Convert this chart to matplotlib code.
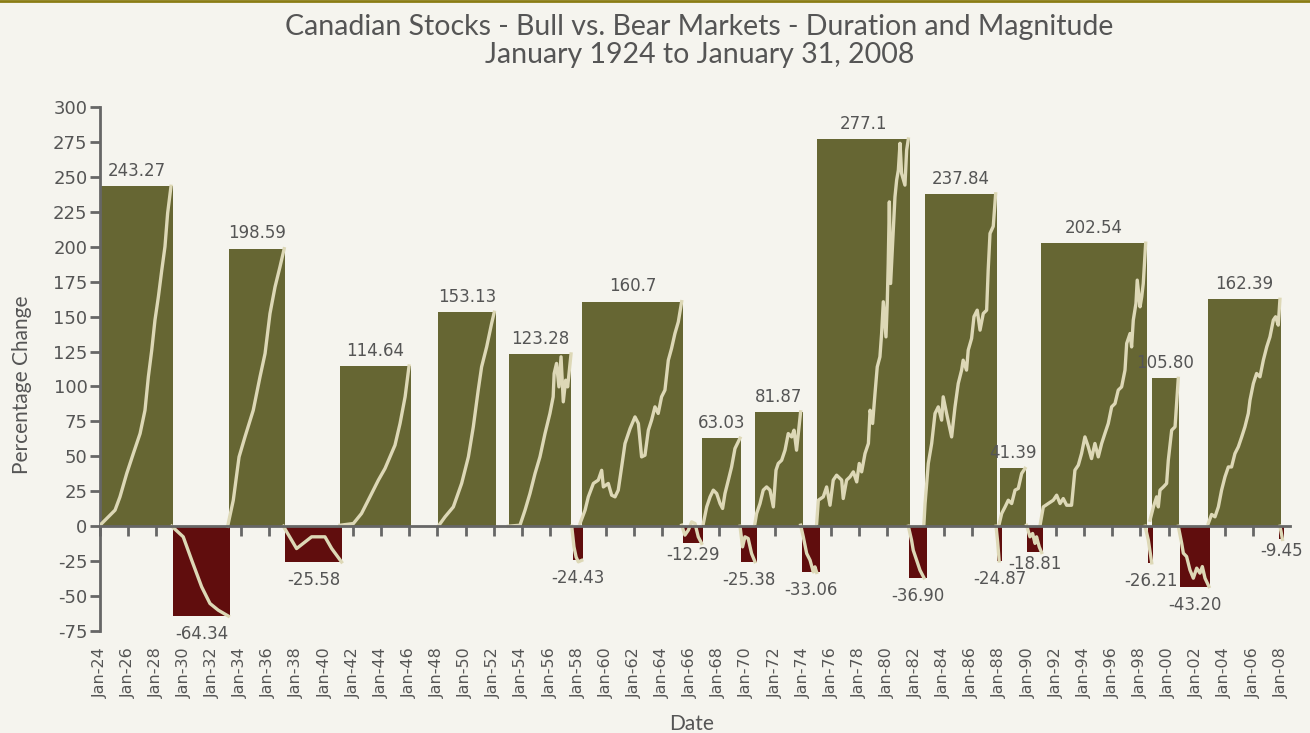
import numpy as np
import matplotlib.pyplot as plt
from matplotlib.lines import Line2D

# market phases: start / end (decimal year), % change, label text
starts = [1924.0, 1929.19, 1933.2, 1937.16, 1941.07, 1948.04, 1953.09, 1957.64,
          1958.28, 1965.47, 1966.82, 1969.59, 1970.58, 1973.93, 1974.99, 1981.54,
          1982.68, 1987.8, 1988.01, 1989.93, 1990.93, 1998.54, 1998.82, 2000.81,
          2002.81, 2007.85]
ends = [1929.19, 1933.25, 1937.16, 1941.21, 1946.12, 1952.17, 1957.5, 1958.35,
        1965.47, 1966.89, 1969.59, 1970.73, 1974.0, 1975.21, 1981.61, 1982.82,
        1987.8, 1988.15, 1989.86, 1991.07, 1998.47, 1998.89, 2000.74, 2002.95,
        2008.0, 2008.21]
changes = [243.27, -64.34, 198.59, -25.58, 114.64, 153.13, 123.28, -24.43,
           160.7, -12.29, 63.03, -25.38, 81.87, -33.06, 277.1, -36.90,
           237.84, -24.87, 41.39, -18.81, 202.54, -26.21, 105.80, -43.20,
           162.39, -9.45]
labels = ["243.27", "-64.34", "198.59", "-25.58", "114.64", "153.13", "123.28", "-24.43",
          "160.7", "-12.29", "63.03", "-25.38", "81.87", "-33.06", "277.1", "-36.90",
          "237.84", "-24.87", "41.39", "-18.81", "202.54", "-26.21", "105.80", "-43.20",
          "162.39", "-9.45"]

# cumulative index path inside each phase
path_years = [
    [1924.0, 1925.07, 1925.42, 1925.9, 1926.37, 1926.85, 1927.2, 1927.44, 1927.68, 1927.91,
     1928.15, 1928.39, 1928.62, 1928.81, 1929.05],
    [1929.1, 1929.92, 1930.52, 1931.23, 1931.82, 1932.41, 1933.13],
    [1933.08, 1933.48, 1933.89, 1934.31, 1934.9, 1935.38, 1935.74, 1936.09, 1936.45, 1936.8, 1937.1],
    [1937.04, 1937.98, 1939.05, 1940.0, 1940.48, 1941.18],
    [1941.07, 1942.02, 1942.6, 1943.2, 1943.8, 1944.27, 1944.98, 1945.34, 1945.7, 1945.98],
    [1948.11, 1948.54, 1949.13, 1949.72, 1950.2, 1950.55, 1950.9, 1951.14, 1951.5, 1951.85, 1952.04],
    [1953.04, 1953.87, 1954.23, 1954.58, 1954.94, 1955.29, 1955.65, 1956.0, 1956.23, 1956.3,
     1956.47, 1956.64, 1956.79, 1956.95, 1957.12, 1957.26, 1957.5],
    [1957.55, 1957.71, 1957.86, 1958.02, 1958.26],
    [1958.14, 1958.5, 1958.73, 1959.09, 1959.44, 1959.68, 1959.8, 1960.15, 1960.39, 1960.63,
     1960.86, 1961.1, 1961.34, 1961.7, 1962.05, 1962.29, 1962.52, 1962.76, 1963.0, 1963.23,
     1963.47, 1963.7, 1963.94, 1964.18, 1964.42, 1964.65, 1964.89, 1965.13, 1965.37],
    [1965.37, 1965.6, 1965.84, 1966.08, 1966.32, 1966.55, 1966.79],
    [1966.91, 1967.15, 1967.39, 1967.62, 1967.86, 1968.1, 1968.28, 1968.45, 1968.69, 1968.92,
     1969.16, 1969.52],
    [1969.52, 1969.7, 1969.87, 1970.1, 1970.34, 1970.58],
    [1970.58, 1970.7, 1970.94, 1971.17, 1971.41, 1971.65, 1971.89, 1972.08, 1972.24, 1972.48,
     1972.72, 1972.95, 1973.19, 1973.36, 1973.54, 1973.83],
    [1973.83, 1974.02, 1974.26, 1974.5, 1974.73, 1974.85, 1974.97],
    [1974.97, 1975.09, 1975.44, 1975.68, 1975.92, 1976.15, 1976.39, 1976.75, 1976.86, 1977.1,
     1977.34, 1977.58, 1977.82, 1978.0, 1978.17, 1978.41, 1978.65, 1978.77, 1978.95, 1979.12,
     1979.28, 1979.47, 1979.59, 1979.71, 1979.9, 1979.99, 1980.06, 1980.14, 1980.23, 1980.42,
     1980.54, 1980.66, 1980.78, 1980.9, 1981.01, 1981.25, 1981.37, 1981.49],
    [1981.49, 1981.72, 1981.84, 1982.08, 1982.32, 1982.6],
    [1982.6, 1982.68, 1982.91, 1983.15, 1983.39, 1983.62, 1983.86, 1983.97, 1984.21, 1984.57,
     1984.81, 1985.04, 1985.28, 1985.39, 1985.63, 1985.75, 1985.99, 1986.16, 1986.39, 1986.59,
     1986.82, 1987.06, 1987.17, 1987.3, 1987.53, 1987.7],
    [1987.73, 1987.85, 1987.95],
    [1987.96, 1988.13, 1988.37, 1988.6, 1988.84, 1989.08, 1989.31, 1989.55, 1989.79],
    [1989.9, 1990.14, 1990.33, 1990.5, 1990.61, 1990.8, 1990.97],
    [1990.86, 1991.09, 1991.44, 1991.8, 1992.04, 1992.28, 1992.51, 1992.75, 1993.1, 1993.34,
     1993.58, 1993.81, 1994.05, 1994.29, 1994.52, 1994.76, 1995.0, 1995.24, 1995.47, 1995.71,
     1995.95, 1996.19, 1996.42, 1996.66, 1996.9, 1997.02, 1997.26, 1997.37, 1997.49, 1997.68,
     1997.77, 1997.97, 1998.09, 1998.2, 1998.37],
    [1998.33, 1998.56, 1998.8],
    [1998.68, 1998.92, 1999.15, 1999.27, 1999.39, 1999.63, 1999.86, 1999.98, 2000.22, 2000.46,
     2000.69],
    [2000.69, 2000.93, 2001.05, 2001.28, 2001.52, 2001.76, 2002.0, 2002.23, 2002.4, 2002.59,
     2002.87],
    [2002.82, 2003.06, 2003.3, 2003.54, 2003.77, 2004.01, 2004.25, 2004.48, 2004.72, 2004.96,
     2005.2, 2005.43, 2005.67, 2005.79, 2006.03, 2006.26, 2006.5, 2006.74, 2006.98, 2007.21,
     2007.45, 2007.61, 2007.8, 2007.92],
    [2007.92, 2008.0, 2008.1],
]
path_pct = [
    [0.7, 11.5, 21, 37.7, 52, 66.3, 83, 107, 126, 147.5, 164, 183, 200, 224, 243.27],
    [0, -7.6, -24.3, -43.4, -55.3, -60.1, -64.34],
    [0, 18.6, 49.6, 63.9, 83, 106.9, 123.6, 152.2, 171.3, 185.6, 198.59],
    [0, -16, -7.6, -7.6, -16, -25.58],
    [0.7, 1.9, 9.1, 21, 33, 41.3, 58, 73.5, 92.6, 114.64],
    [0.7, 6.7, 13.8, 30.6, 49.6, 71.1, 97.4, 114, 128.3, 145, 153.13],
    [0, 0.7, 11.5, 23.4, 37.7, 49.6, 66.3, 80.7, 92.6, 109.3, 116.5, 99.7, 121.2, 89, 104.5,
     99.7, 123.28],
    [0, -14.8, -22, -25.5, -24.43],
    [1.9, 11.5, 21, 30.6, 33, 40, 28.1, 30.6, 22.2, 21, 25.8, 42.4, 59.2, 69.9, 78.2, 73.5,
     49.6, 50.8, 68.7, 75.9, 85.4, 80.7, 92.6, 97.4, 118.8, 127.2, 137.9, 146.2, 160.7],
    [0.7, -6.4, -2.9, 3.1, 1.9, -7.6, -12.29],
    [1.9, 13.8, 21, 25.8, 23.4, 16.2, 12.7, 23.4, 33, 42.4, 55.6, 63.03],
    [0, -14.8, -7.6, -8.8, -19.5, -25.38],
    [1.9, 9.1, 16.2, 25.8, 28.1, 25.8, 13.8, 40.1, 44.9, 47.2, 54.4, 66.3, 63.9, 68.7, 54.4,
     81.87],
    [0.7, -7.6, -19.5, -24.3, -32.7, -29.1, -33.06],
    [1.9, 18.6, 21, 28.1, 15, 33, 36.5, 33, 19.8, 33, 35.3, 38.9, 31.7, 44.9, 38.9, 52, 59.2,
     83, 73.5, 95, 114, 121.2, 137.9, 160.6, 135.5, 159.4, 188, 232.1, 173.7, 211.9, 235.7,
     247.7, 254.8, 274, 252.5, 244.1, 269.1, 277.1],
    [0, -10, -17.2, -24.3, -31.5, -36.9],
    [1.9, 16.2, 44.9, 59.2, 80.7, 85.4, 75.9, 92.6, 80.7, 63.9, 85.4, 102.1, 111.7, 118.8,
     111.7, 126, 134.4, 150, 154.6, 140.3, 152.2, 154.6, 183.3, 209.5, 214.6, 237.84],
    [0, -12, -24.87],
    [1.9, 9.1, 13.8, 18.6, 16.2, 25.8, 27, 37.7, 41.39],
    [0.7, -7.6, -5.2, -12.3, -7.6, -14.8, -18.81],
    [0.7, 13.8, 16.2, 18.6, 22.2, 16.2, 19.8, 15, 15, 40.1, 43.7, 52, 63.9, 56.8, 48.4, 59.2,
     49.6, 59.2, 66.3, 73.5, 85.4, 87.8, 97.4, 99.7, 111.7, 130.8, 137.9, 128.3, 147.5, 159.4,
     176.1, 157, 164.2, 173.7, 202.54],
    [0, -10, -26.21],
    [4.3, 13.8, 21, 13.8, 25.8, 28.1, 30.6, 47.2, 68.7, 71.1, 105.8],
    [0, -12.1, -19.3, -21.7, -31.3, -37.2, -30, -33.6, -28.9, -37.2, -43.2],
    [1.9, 8.4, 6.7, 13.8, 25.8, 35.3, 42.4, 42.4, 52, 56.8, 63.9, 71.1, 80.7, 90.2, 102.1,
     109.3, 106.9, 118.8, 128.3, 135.5, 147.5, 149.9, 143.9, 162.39],
    [0, -4, -9.45],
]

tick_years = list(range(1924, 2009, 2))
tick_labels = ["Jan-%02d" % (y % 100) for y in tick_years]
y_ticks = list(range(-75, 301, 25))

bg = '#f5f4ee'
bull_col = '#666633'
bear_col = '#600d0d'
line_col = '#ddd8b6'
text_col = '#555555'
axis_col = '#666666'
num_font = 'DejaVu Sans'

fig = plt.figure(figsize=(13.1, 7.33), dpi=100, facecolor=bg)
ax = fig.add_axes([100/1310, 102/733, 1189.5/1310, 524/733], facecolor=bg)

widths = [e - s for s, e in zip(starts, ends)]
cols = [bull_col if c > 0 else bear_col for c in changes]
ax.bar(starts, changes, width=widths, align='edge', color=cols, zorder=2)

for xs, ys in zip(path_years, path_pct):
    ax.plot(xs, ys, color=line_col, lw=2.4, zorder=3, solid_joinstyle='round')

for s, e, c, lab in zip(starts, ends, changes, labels):
    mid = (s + e) / 2
    if c > 0:
        dy = 11
    elif c > -20:
        dy = -8.5   # small drops sit closer to the bar
    else:
        dy = -13
    ax.annotate(lab, (mid, c), xytext=(0, dy), textcoords='offset points',
                ha='center', va='center', fontsize=12, color=text_col,
                family=num_font, zorder=4)

ax.set_xlim(1924, 2008.6)
ax.set_ylim(-75, 300)

for sp in ['top', 'right']:
    ax.spines[sp].set_visible(False)
ax.spines['bottom'].set_position(('data', 0))
ax.spines['bottom'].set_color(axis_col)
ax.spines['bottom'].set_linewidth(2)
ax.spines['bottom'].set_zorder(5)
ax.spines['left'].set_color(axis_col)
ax.spines['left'].set_linewidth(2)

ax.set_yticks(y_ticks)
ax.set_yticklabels([str(v) for v in y_ticks])
ax.set_xticks(tick_years)
ax.set_xticklabels(tick_labels, rotation=90, va='top')
ax.tick_params(axis='y', direction='out', length=7, width=2, color=axis_col,
               labelsize=13, labelcolor=text_col, pad=2)
ax.tick_params(axis='x', direction='out', length=7, width=2, color=axis_col,
               labelsize=11.5, labelcolor=text_col, pad=80)
for t in ax.get_xticklabels() + ax.get_yticklabels():
    t.set_family(num_font)

fig.text(0.534, 1 - 27/733, "Canadian Stocks - Bull vs. Bear Markets - Duration and Magnitude",
         ha='center', va='center', fontsize=20.5, color=text_col, family='Lato')
fig.text(0.534, 1 - 55/733, "January 1924 to January 31, 2008",
         ha='center', va='center', fontsize=20.5, color=text_col, family='Lato')
fig.text(22/1310, 1 - 385/733, "Percentage Change", rotation=90, ha='center', va='center',
         fontsize=15, color=text_col, family='Lato')
fig.text(692/1310, 1 - 724/733, "Date", ha='center', va='center',
         fontsize=15, color=text_col, family='Lato')

fig.add_artist(Line2D([0, 1], [0.998, 0.998], transform=fig.transFigure,
                      color='#8a7c14', lw=2))

fig.savefig('out.png', dpi=100, facecolor=bg)
